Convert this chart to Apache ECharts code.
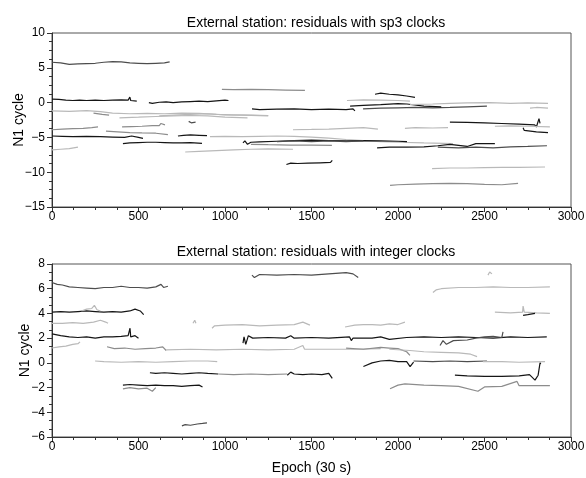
<!DOCTYPE html>
<html>
<head>
<meta charset="utf-8">
<script src="https://cdn.jsdelivr.net/npm/echarts@6/dist/echarts.min.js"></script>
<style>
  html, body { margin: 0; padding: 0; background: #fff; }
  #chart { width: 586px; height: 478px; }
</style>
</head>
<body>
<div id="chart"></div>
<script>
// titles / axis text
var topTitle = 'External station: residuals with sp3 clocks';
var bottomTitle = 'External station: residuals with integer clocks';
var yName = 'N1 cycle';
var xName = 'Epoch (30 s)';

// sp3 clocks: arc pieces, [epoch, N1 residual]
var sp3Arcs = [
  [[0,5.8],[50,5.7],[100,5.5],[150,5.55],[200,5.6],[250,5.65],[300,5.8],[350,5.9],[400,5.85],[450,5.7],[500,5.65],[550,5.6],[600,5.65],[650,5.7],[680,5.85]],
  [[0,0.5],[40,0.45],[80,0.35],[120,0.3],[160,0.35],[200,0.3],[250,0.35],[300,0.3],[350,0.35],[400,0.4],[440,0.35],[450,0.8],[455,0.3],[490,0.2]],
  [[560,0.0],[580,-0.1],[620,0.05],[660,0.1],[700,0.0],[750,0.1],[800,0.15],[850,0.2],[900,0.15],[950,0.25],[1000,0.35],[1020,0.3]],
  [[0,-1.2],[100,-1.25],[200,-1.15],[280,-1.3],[350,-1.5],[450,-1.6],[550,-1.55],[650,-1.6],[750,-1.5],[850,-1.55],[950,-1.7],[1050,-1.75],[1150,-1.8],[1250,-1.85]],
  [[240,-1.5],[290,-1.7],[330,-1.8]],
  [[390,-2.2],[500,-2.1],[600,-2.0],[700,-1.9],[800,-1.85],[900,-1.9],[1000,-2.1],[1130,-2.2]],
  [[620,-1.9],[700,-1.8],[800,-1.7],[900,-1.6],[1000,-1.75],[1100,-1.8],[1250,-1.9]],
  [[790,-2.7],[805,-2.9],[830,-2.8]],
  [[0,-3.9],[60,-3.8],[120,-3.75],[180,-3.7],[230,-3.6],[266,-3.5]],
  [[405,-3.5],[460,-3.45],[520,-3.4],[580,-3.3],[620,-3.3],[630,-3.0],[653,-3.2]],
  [[312,-4.1],[380,-4.2],[450,-4.3],[520,-4.35],[600,-4.4],[670,-4.6]],
  [[0,-4.8],[60,-4.85],[120,-4.9],[200,-4.85],[280,-4.9],[350,-4.95],[420,-5.0],[460,-4.8],[500,-5.0],[526,-5.15]],
  [[410,-5.9],[450,-5.8],[500,-5.75],[550,-5.7],[600,-5.7],[650,-5.75],[700,-5.8],[750,-5.8],[800,-5.75],[867,-5.85]],
  [[728,-4.8],[760,-4.7],[800,-4.65],[850,-4.7],[896,-4.75]],
  [[0,-6.8],[50,-6.7],[100,-6.6],[150,-6.4]],
  [[770,-7.1],[850,-7.0],[950,-6.9],[1050,-6.8],[1150,-6.7],[1250,-6.65],[1393,-6.7]],
  [[913,-4.9],[1000,-4.85],[1100,-4.9],[1200,-4.85],[1300,-4.8],[1400,-4.85],[1500,-4.95],[1600,-5.1],[1700,-5.3],[1800,-5.45],[1900,-5.6],[2000,-5.7],[2150,-5.8],[2318,-5.9]],
  [[1150,-6.0],[1250,-6.05],[1376,-6.1],[1500,-6.1],[1618,-6.15]],
  [[1104,-5.8],[1115,-5.5],[1130,-6.0],[1150,-5.7],[1200,-5.65],[1300,-5.55],[1400,-5.45],[1500,-5.4],[1600,-5.45],[1700,-5.5],[1800,-5.45],[1900,-5.5],[2000,-5.55],[2052,-5.6]],
  [[1300,-5.6],[1400,-5.5],[1500,-5.6],[1600,-5.5],[1700,-5.6],[1800,-5.5]],
  [[1355,-8.9],[1380,-8.7],[1420,-8.75],[1480,-8.7],[1550,-8.65],[1610,-8.6],[1620,-8.3]],
  [[982,1.9],[1050,1.85],[1150,1.9],[1250,1.85],[1350,1.8],[1462,1.75]],
  [[1156,-0.9],[1200,-1.0],[1300,-0.95],[1400,-0.9],[1500,-1.0],[1600,-0.95],[1700,-1.0],[1740,-0.9],[1751,-1.2]],
  [[1798,-0.9],[1900,-0.8],[2000,-0.75],[2100,-0.7],[2200,-0.75],[2300,-0.7],[2400,-0.6],[2514,-0.5]],
  [[1723,-0.5],[1800,-0.4],[1900,-0.3],[2000,-0.15],[2052,-0.2],[2150,-0.5],[2250,-0.6]],
  [[1705,0.3],[1800,0.4],[1900,0.35],[2000,0.3],[2069,0.2]],
  [[1867,1.2],[1900,1.35],[1950,1.2],[2000,1.1],[2050,0.95],[2098,0.75]],
  [[2069,-0.3],[2200,-0.2],[2300,-0.1],[2400,-0.05],[2532,0.0],[2650,-0.1],[2750,-0.05],[2867,-0.1]],
  [[2763,-0.8],[2800,-0.7],[2867,-0.8]],
  [[1393,-3.9],[1500,-3.85],[1600,-3.8],[1700,-3.7],[1800,-3.6],[1884,-3.8]],
  [[2040,-3.7],[2100,-3.6],[2200,-3.65],[2289,-3.6]],
  [[2300,-2.8],[2400,-2.85],[2500,-2.9],[2600,-3.0],[2700,-3.1],[2790,-3.2],[2800,-3.5],[2815,-2.3],[2821,-3.0]],
  [[2560,-3.4],[2650,-3.35],[2750,-3.4],[2878,-3.5]],
  [[2723,-3.6],[2730,-4.0],[2800,-4.2],[2867,-4.3]],
  [[1879,-6.5],[1950,-6.4],[2050,-6.4],[2150,-6.35],[2230,-6.2],[2300,-6.0],[2400,-6.3],[2450,-5.9],[2560,-5.9]],
  [[2230,-6.4],[2350,-6.5],[2450,-6.4],[2550,-6.5],[2650,-6.35],[2750,-6.3],[2861,-6.2]],
  [[2197,-9.5],[2300,-9.4],[2400,-9.4],[2500,-9.35],[2600,-9.3],[2700,-9.3],[2850,-9.25]],
  [[1954,-11.9],[2000,-11.8],[2100,-11.7],[2200,-11.65],[2300,-11.6],[2400,-11.65],[2500,-11.75],[2600,-11.8],[2694,-11.6]]
];
// shade per arc: k black, d dark grey, g grey, l light grey
var sp3Shade = ['d','k','k','l','g','l','l','d','g','g','g','k','k','k','l','l','l','g','k','d','k','g','k','d','k','l','k','l','l','l','l','k','l','k','k','d','l','g'];

// integer clocks
var intArcs = [
  [[0,6.5],[30,6.35],[60,6.3],[100,6.15],[150,6.1],[200,6.05],[250,6.0],[300,6.1],[350,6.1],[400,6.2],[450,6.1],[500,6.1],[550,6.05],[600,6.15],[630,6.35],[645,6.1],[670,6.2]],
  [[0,4.1],[50,4.15],[100,4.1],[150,4.15],[200,4.2],[250,4.15],[300,4.1],[350,4.15],[400,4.1],[450,4.2],[480,4.35],[510,4.2],[530,3.9]],
  [[170,4.2],[200,4.35],[230,4.4],[245,4.65],[260,4.3],[280,4.2]],
  [[0,3.2],[60,3.2],[120,3.25],[180,3.2],[240,3.3],[280,3.45],[310,3.3],[324,3.2]],
  [[0,2.35],[50,2.2],[100,2.1],[150,2.05],[200,2.1],[250,2.0],[300,2.1],[350,2.1],[400,2.15],[440,2.2],[451,2.8],[455,2.1],[480,2.2],[500,2.0]],
  [[0,1.2],[40,1.3],[80,1.35],[120,1.5],[150,1.55],[162,1.7]],
  [[318,1.3],[360,1.15],[420,1.2],[480,1.1],[540,1.15],[600,1.2],[640,1.3],[660,1.0]],
  [[660,1.05],[800,1.1],[950,1.05],[1100,1.1],[1250,1.05],[1400,1.1],[1450,1.4],[1460,1.1],[1600,1.1],[1750,1.1],[1900,1.15]],
  [[1700,1.2],[1800,1.1],[1900,1.25],[1950,1.2],[2000,1.15],[2050,0.9],[2069,0.6]],
  [[1950,1.1],[2069,1.0],[2150,0.9],[2250,0.85],[2350,0.8],[2420,0.7],[2457,0.5]],
  [[249,0.15],[300,0.1],[400,0.05],[500,0.1],[600,0.05],[700,0.1],[800,0.15],[900,0.15],[955,0.1]],
  [[566,-0.8],[600,-0.85],[650,-0.8],[700,-0.85],[750,-0.9],[800,-0.85],[850,-0.8],[900,-0.85],[960,-0.9]],
  [[960,-0.9],[1050,-0.95],[1150,-0.9],[1250,-0.95],[1360,-0.9]],
  [[1360,-1.0],[1380,-0.75],[1400,-0.9],[1450,-0.95],[1500,-0.9],[1560,-0.95],[1600,-0.85],[1620,-1.25]],
  [[410,-1.8],[450,-1.75],[500,-1.8],[550,-1.85],[600,-1.8],[650,-1.85],[700,-1.85],[750,-1.9],[800,-1.85],[850,-1.8],[870,-1.95]],
  [[410,-2.1],[450,-2.0],[500,-2.1],[550,-2.05],[580,-2.3],[600,-2.0]],
  [[751,-5.1],[770,-5.0],[800,-5.05],[840,-4.95],[870,-4.9],[896,-4.85]],
  [[815,3.2],[825,3.45],[832,3.2]],
  [[925,2.8],[940,3.0],[1000,3.05],[1100,3.1],[1200,3.0],[1300,3.05],[1400,3.1],[1450,3.3],[1491,3.05]],
  [[1694,2.9],[1750,3.05],[1800,3.1],[1850,3.1],[1900,3.05],[1950,3.15],[2000,3.1],[2040,3.3]],
  [[1104,1.6],[1110,2.1],[1120,1.5],[1135,2.2],[1160,2.0],[1250,2.05],[1350,2.0],[1380,2.2],[1400,2.0],[1500,2.05],[1600,2.0],[1720,2.1],[1730,1.8],[1740,2.0],[1850,2.0],[1900,2.1],[1950,1.9],[2050,2.05],[2150,2.1],[2250,2.05],[2350,2.1],[2450,2.05],[2550,2.0],[2650,2.1],[2750,2.05],[2860,2.1]],
  [[2243,1.4],[2260,1.8],[2280,1.5],[2320,1.8],[2400,1.85],[2450,2.0],[2500,2.1],[2550,2.15],[2600,2.05],[2607,2.5]],
  [[1156,7.1],[1170,6.9],[1200,7.15],[1300,7.1],[1400,7.15],[1500,7.1],[1600,7.2],[1700,7.3],[1740,7.2],[1770,6.9]],
  [[1800,-0.3],[1850,0.0],[1900,0.15],[1950,0.2],[2000,0.1],[2050,0.1],[2070,-0.3],[2090,0.05]],
  [[2090,0.15],[2200,0.1],[2300,0.15],[2400,0.1],[2514,0.15]],
  [[2491,0.1],[2600,0.1],[2700,0.05],[2850,0.1]],
  [[2329,-1.0],[2400,-1.05],[2500,-1.1],[2600,-1.1],[2700,-1.05],[2760,-0.95],[2792,-1.4],[2810,-1.0],[2821,0.0],[2825,-0.1]],
  [[2202,5.7],[2220,5.9],[2250,6.0],[2350,6.1],[2450,6.1],[2550,6.15],[2650,6.1],[2750,6.1],[2878,6.15]],
  [[2520,7.1],[2530,7.35],[2543,7.2]],
  [[2560,4.1],[2650,4.05],[2720,4.1],[2723,4.6],[2730,4.1],[2800,4.05],[2878,4.0]],
  [[2723,3.85],[2750,3.9],[2792,4.0]],
  [[1954,-2.1],[2000,-1.8],[2040,-1.7],[2150,-1.8],[2250,-1.85],[2350,-1.9],[2462,-2.3],[2500,-1.95],[2600,-1.9],[2688,-1.5],[2700,-1.85],[2878,-1.85]]
];
var intShade = ['d','k','l','l','k','l','g','l','g','l','l','k','g','k','k','g','d','l','l','l','k','d','d','k','d','l','k','l','l','l','k','g'];

var shadeColor = { k: '#151515', d: '#4d4d4d', g: '#8c8c8c', l: '#b9b9b9' };
var font = 'Liberation Sans, Arial, sans-serif';

function minusFmt(v) { return String(v).replace('-', '\u2212'); }

function xAxisOf(gi, withName) {
  return {
    type: 'value', gridIndex: gi, min: 0, max: 3000, interval: 500,
    name: withName ? xName : '', nameLocation: 'middle', nameGap: 24,
    nameTextStyle: { fontFamily: font, fontSize: 14, color: '#000' },
    axisLine: { onZero: false, lineStyle: { color: '#333', width: 1 } },
    axisTick: { length: 5, lineStyle: { color: '#333' } },
    minorTick: { show: true, splitNumber: 4, length: 3, lineStyle: { color: '#333' } },
    splitLine: { show: false },
    axisLabel: { margin: 4, fontFamily: font, fontSize: 12, color: '#000', formatter: function (v) { return String(v); } }
  };
}
function yAxisOf(gi, lo, hi, step, minorN, gap) {
  return {
    type: 'value', gridIndex: gi, min: lo, max: hi, interval: step,
    name: yName, nameLocation: 'middle', nameGap: gap, nameMoveOverlap: false,
    nameTextStyle: { fontFamily: font, fontSize: 14, color: '#000' },
    axisLine: { show: true, onZero: false, lineStyle: { color: '#333', width: 1 } },
    axisTick: { show: true, length: 5, lineStyle: { color: '#333' } },
    minorTick: { show: true, splitNumber: minorN, length: 3, lineStyle: { color: '#333' } },
    splitLine: { show: false },
    axisLabel: { margin: 7, fontFamily: font, fontSize: 12, color: '#000', formatter: minusFmt }
  };
}

var series = [];
function addArcs(arcs, shades, gi) {
  arcs.forEach(function (pts, i) {
    series.push({
      type: 'line', xAxisIndex: gi, yAxisIndex: gi, data: pts,
      showSymbol: false, silent: true, animation: false,
      lineStyle: { color: shadeColor[shades[i]], width: 1.2 }
    });
  });
}
addArcs(sp3Arcs, sp3Shade, 0);
addArcs(intArcs, intShade, 1);

var chart = echarts.init(document.getElementById('chart'), null, { renderer: 'canvas' });
chart.setOption({
  backgroundColor: '#fff',
  animation: false,
  title: [
    { text: topTitle, left: 311, top: 11, textAlign: 'center',
      textStyle: { fontFamily: font, fontSize: 14, fontWeight: 'normal', color: '#000' } },
    { text: bottomTitle, left: 311, top: 240, textAlign: 'center',
      textStyle: { fontFamily: font, fontSize: 14, fontWeight: 'normal', color: '#000' } }
  ],
  grid: [
    { left: 52, width: 519, top: 33, height: 174, show: true, borderColor: '#555', borderWidth: 1,
      containLabel: false, outerBoundsMode: 'none' },
    { left: 52, width: 519, top: 264, height: 173, show: true, borderColor: '#555', borderWidth: 1,
      containLabel: false, outerBoundsMode: 'none' }
  ],
  xAxis: [xAxisOf(0, false), xAxisOf(1, true)],
  yAxis: [yAxisOf(0, -15, 10, 5, 4, 26), yAxisOf(1, -6, 8, 2, 3, 20)],
  series: series
});
</script>
</body>
</html>
